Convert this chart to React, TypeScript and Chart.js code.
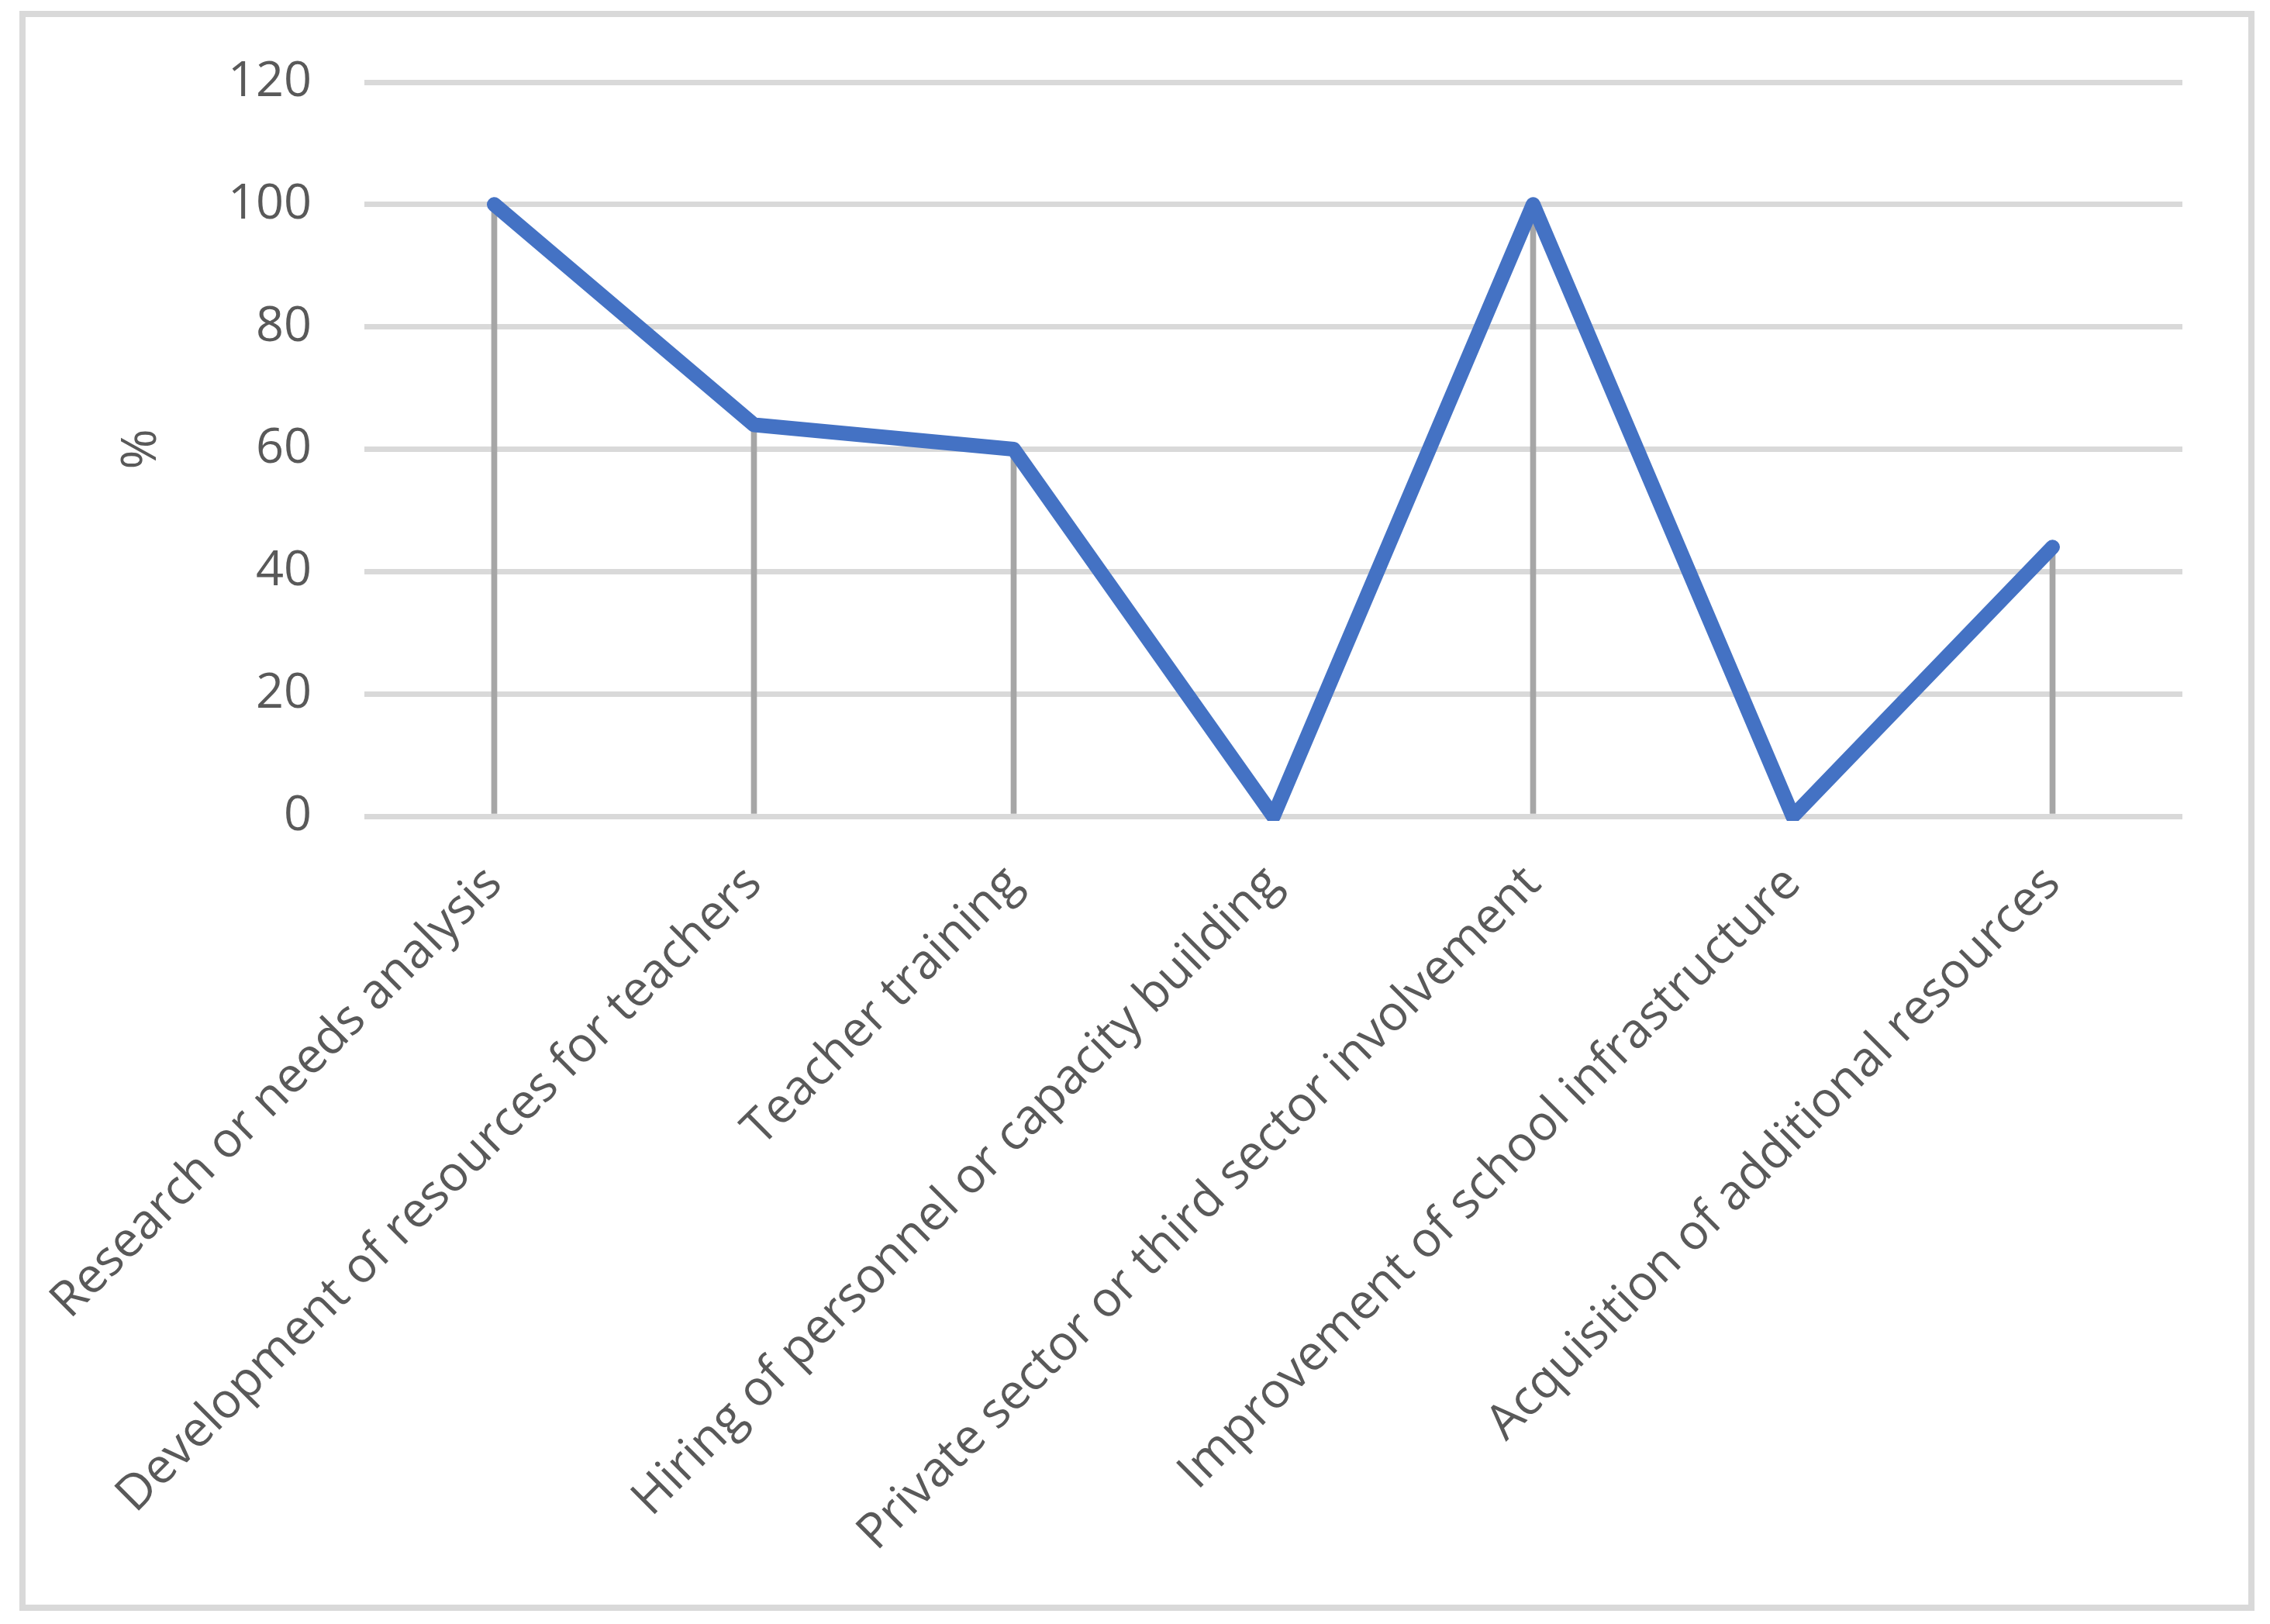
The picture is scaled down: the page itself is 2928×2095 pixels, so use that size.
import React, { useEffect, useRef } from "react";
import { Chart, registerables } from "chart.js";

Chart.register(...registerables);

const categories: string[] = [
  "Research or needs analysis",
  "Development of resources for teachers",
  "Teacher training",
  "Hiring of personnel or capacity building",
  "Private sector or third sector involvement",
  "Improvement of school infrastructure",
  "Acquisition of additional resources",
];

const percentValues: number[] = [100, 64, 60, 0, 100, 0, 44];

const yTickMin = 0;
const yTickMax = 120;
const yTickStep = 20;
const yAxisTitle = "%";

const W = 2928;
const H = 2095;

export default function App() {
  const ref = useRef<HTMLCanvasElement | null>(null);

  useEffect(() => {
    if (!ref.current) return;
    const font = "'Open Sans', 'Noto Sans', sans-serif";
    const chart = new Chart(ref.current, {
      type: "bar",
      data: {
        labels: categories,
        datasets: [
          {
            type: "line",
            data: percentValues,
            borderColor: "#4472c4",
            backgroundColor: "#4472c4",
            borderWidth: 19,
            borderCapStyle: "round",
            borderJoinStyle: "round",
            pointRadius: 0,
            pointHoverRadius: 0,
            tension: 0,
            order: 0,
            clip: 6,
          } as any,
          {
            type: "bar",
            data: percentValues,
            backgroundColor: "#a6a6a6",
            borderWidth: 0,
            barThickness: 7,
            order: 1,
          } as any,
        ],
      },
      options: {
        responsive: false,
        animation: false,
        devicePixelRatio: 1,
        layout: { padding: { left: 145, top: 106, right: 113, bottom: 0 } },
        plugins: {
          legend: { display: false },
          tooltip: { enabled: false },
          title: { display: false },
        },
        scales: {
          x: {
            type: "category",
            offset: true,
            grid: { display: false, drawTicks: false },
            border: { display: false },
            ticks: {
              autoSkip: false,
              minRotation: 45,
              maxRotation: 45,
              padding: 50,
              color: "#595959",
              font: { family: font, size: 63 },
            },
            afterFit: (scale: any) => {
              scale.height = H - 1053;
              scale.paddingLeft = 0;
              scale.paddingRight = 0;
            },
          },
          y: {
            min: yTickMin,
            max: yTickMax,
            grid: { color: "#d9d9d9", lineWidth: 7, drawTicks: false },
            border: { display: false },
            ticks: {
              stepSize: yTickStep,
              padding: 68,
              color: "#595959",
              font: { family: font, size: 63 },
            },
            title: {
              display: true,
              text: yAxisTitle,
              color: "#595959",
              font: { family: font, size: 63 },
              padding: 0,
            },
            afterFit: (scale: any) => {
              scale.width = 325;
            },
          },
        },
      },
    });
    return () => chart.destroy();
  }, []);

  return (
    <div style={{ position: "fixed", left: 0, top: 0, width: W, height: H, background: "#ffffff" }}>
      <div
        style={{
          position: "absolute",
          left: 25,
          top: 14,
          width: 2908 - 25,
          height: 2078 - 14,
          border: "8px solid #d9d9d9",
          boxSizing: "border-box",
        }}
      />
      <canvas
        ref={ref}
        width={W}
        height={H}
        style={{ position: "absolute", left: 0, top: 0, width: W, height: H }}
      />
    </div>
  );
}
